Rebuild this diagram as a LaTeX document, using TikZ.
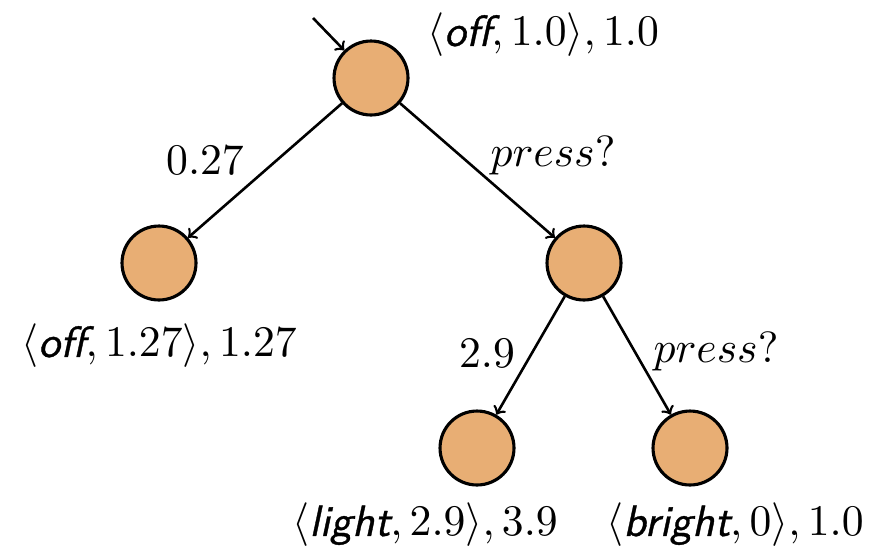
\documentclass[tikz,border=0pt]{standalone}
\usepackage{amsmath}
\usepackage{fontspec}
\usetikzlibrary{arrows}
\definecolor{statefill}{RGB}{232,174,116}
\newfontfamily\statefont{Latin Modern Sans}[FakeBold=0.8]
\newcommand{\lbl}[1]{\text{\statefont\slshape #1}}
\begin{document}
\begin{tikzpicture}[x=0.0135135cm,y=-0.0135135cm,
  state/.style={circle,draw,line width=1.2pt,fill=statefill,minimum size=1cm,inner sep=0pt},
  trans/.style={->,>=to,line width=1pt},
  txt/.style={inner sep=1pt,scale=1.68}]
\useasboundingbox (0,0) rectangle (886,549);
\node[state] (r) at (371,78) {};
\node[state] (a) at (159,263) {};
\node[state] (b) at (584,263) {};
\node[state] (c) at (477,448) {};
\node[state] (d) at (690,448) {};
\coordinate (init) at (313,18);
\draw[trans] (init) -- (r);
\draw[trans] (r) -- (a);
\draw[trans] (r) -- (b);
\draw[trans] (b) -- (c);
\draw[trans] (b) -- (d);
\node[txt] (lr) at (543,35) {$\langle \lbl{off}, 1.0\rangle, 1.0$};
\node[txt] (la) at (159,346) {$\langle \lbl{off}, 1.27\rangle, 1.27$};
\node[txt] (lc) at (425,525) {$\langle \lbl{light}, 2.9\rangle, 3.9$};
\node[txt] (ld) at (735,525) {$\langle \lbl{bright}, 0\rangle, 1.0$};
\node[txt] (e1) at (205,160) {$0.27$};
\node[txt] (e2) at (553,156) {$press?$};
\node[txt] (e3) at (487,353) {$2.9$};
\node[txt] (e4) at (716,352) {$press?$};
\end{tikzpicture}
\end{document}
